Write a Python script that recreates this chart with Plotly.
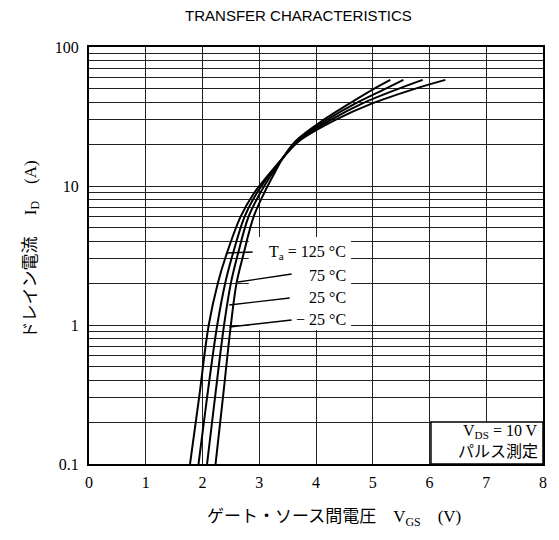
import plotly.graph_objects as go

# ---- data ----
id_levels = [0.1, 0.3, 1.0, 2.0, 3.2, 6.0, 8.8, 12, 16, 21, 30, 39, 50, 58]
vgs_125 = [1.78, 1.94, 2.11, 2.27, 2.42, 2.67, 2.90, 3.16, 3.42, 3.70, 4.35, 4.97, 5.74, 6.28]
vgs_75 = [1.93, 2.08, 2.26, 2.40, 2.53, 2.74, 2.95, 3.18, 3.42, 3.68, 4.27, 4.80, 5.45, 5.88]
vgs_25 = [2.08, 2.22, 2.38, 2.50, 2.62, 2.81, 3.01, 3.21, 3.42, 3.66, 4.20, 4.68, 5.22, 5.54]
vgs_m25 = [2.23, 2.36, 2.50, 2.60, 2.72, 2.90, 3.08, 3.25, 3.42, 3.64, 4.14, 4.58, 5.02, 5.31]
series = [("125 °C", vgs_125), ("75 °C", vgs_75), ("25 °C", vgs_25), ("−25 °C", vgs_m25)]

x_ticks = [0, 1, 2, 3, 4, 5, 6, 7, 8]
y_tickvals = [0.1, 1, 10, 100]
y_ticktext = ["0.1", "1", "10", "100"]

# page has an 8px body margin; plot area in page pixels: x 89..547, y 47..464
OFF = 8
W, H = 543, 524
L, T = 89 - OFF, 47 - OFF
R = 4
PW = W - L - R
PH = 417
B = H - T - PH


def px(x):
    # reference page pixel -> paper fraction (reference plot spans 89..555)
    return (x - 89) / 466


def py(y):
    return (464 - y) / 417


SERIF = "Liberation Serif, Noto Sans CJK JP"
CJK = "Liberation Serif, Noto Sans CJK JP"

fig = go.Figure()
for name, vg in series:
    fig.add_trace(go.Scatter(x=vg, y=id_levels, mode="lines", name=name,
                             line=dict(color="black", width=2, shape="spline"),
                             showlegend=False))

shapes = []
# white area behind temperature labels
shapes.append(dict(type="rect", xref="paper", yref="paper", x0=px(253), x1=px(358),
                   y0=py(330), y1=py(237), fillcolor="white", line=dict(width=0), layer="above"))
# leader lines
for (x0, y0, x1, y1) in [(230, 253, 257, 252), (242, 282, 297, 274),
                         (233, 305, 295, 298), (233, 327, 297, 320)]:
    shapes.append(dict(type="line", xref="paper", yref="paper", x0=px(x0), y0=py(y0),
                       x1=px(x1), y1=py(y1), line=dict(color="black", width=1.3), layer="above"))
# VDS box
shapes.append(dict(type="rect", xref="paper", yref="paper", x0=px(440), x1=1,
                   y0=0, y1=py(422), fillcolor="white",
                   line=dict(color="black", width=1.5), layer="above"))

annotations = []
labels = [("T<sub>a</sub> = 125 °C", 252), ("75 °C", 275), ("25 °C", 297), ("− 25 °C", 319)]
for txt, yy in labels:
    annotations.append(dict(text=txt, xref="paper", yref="paper", x=px(355), y=py(yy),
                            xanchor="right", yanchor="middle", showarrow=False,
                            font=dict(family=SERIF, size=16, color="black")))
annotations.append(dict(text="V<sub>DS</sub> = 10 V", xref="paper", yref="paper", x=px(552), y=py(431),
                        xanchor="right", yanchor="middle", showarrow=False,
                        font=dict(family=SERIF, size=16, color="black")))
annotations.append(dict(text="パルス測定", xref="paper", yref="paper", x=px(552), y=py(451),
                        xanchor="right", yanchor="middle", showarrow=False,
                        font=dict(family=CJK, size=16, color="black")))
# axis titles
annotations.append(dict(text="ゲート・ソース間電圧　V<sub>GS</sub>　(V)", xref="paper", yref="paper",
                        x=px(340), y=py(518), xanchor="center", yanchor="middle", showarrow=False,
                        font=dict(family=CJK, size=17, color="black")))
annotations.append(dict(text="ドレイン電流　 I<sub>D</sub>　(A)", xref="paper", yref="paper",
                        x=px(30), y=py(250), xanchor="center", yanchor="middle", showarrow=False,
                        textangle=-90, font=dict(family=CJK, size=17, color="black")))

fig.update_layout(
    width=W, height=H,
    margin=dict(l=L, r=R, t=T, b=B),
    paper_bgcolor="white", plot_bgcolor="white",
    title=dict(text="TRANSFER CHARACTERISTICS", xref="paper", x=px(304), xanchor="center",
               y=1 - (16 - OFF) / H, yanchor="middle", yref="container",
               font=dict(family="Liberation Sans, Arial", size=15, color="black")),
    shapes=shapes, annotations=annotations,
)
fig.update_xaxes(range=[0, 8], tickvals=x_ticks, showgrid=True, gridcolor="#222", gridwidth=1,
                 showline=True, linecolor="black", linewidth=2, mirror=True, ticks="",
                 ticklabelstandoff=3, zeroline=False,
                 tickfont=dict(family=SERIF, size=16, color="black"))
fig.update_yaxes(type="log", range=[-1, 2], tickvals=y_tickvals, ticktext=y_ticktext,
                 showgrid=True, gridcolor="#222", gridwidth=1,
                 minor=dict(dtick="D1", showgrid=True, gridcolor="#222", gridwidth=1, ticks=""),
                 showline=True, linecolor="black", linewidth=2, mirror=True, ticks="",
                 ticklabelstandoff=5, zeroline=False,
                 tickfont=dict(family=SERIF, size=16, color="black"))

fig.write_html("out.html")
